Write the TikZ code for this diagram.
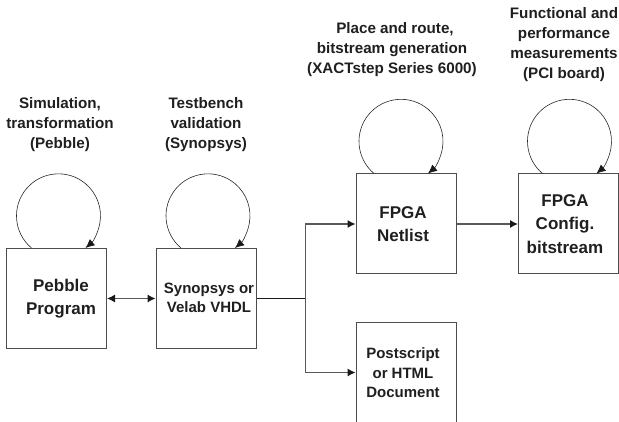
\documentclass[tikz,border=0pt]{standalone}
\usepackage{fontspec}
\setmainfont{Liberation Sans}
\usetikzlibrary{arrows.meta}
\tikzset{
  x=1pt,y=-1pt,
  headtip/.tip={Latex[length=8pt,width=8pt,color=black!90]},
  looptip/.tip={Latex[length=9pt,width=8pt,color=black!90]},
  boxnode/.style={draw=black!70,line width=1pt,minimum width=100pt,minimum height=100pt,inner sep=0pt},
  biglabel/.style={align=center,inner sep=0pt,text=black!88,font=\bfseries\fontsize{17}{23.5}\selectfont},
  midlabel/.style={align=center,inner sep=0pt,text=black!88,font=\bfseries\fontsize{15}{19.5}\selectfont},
  caption/.style={align=center,inner sep=0pt,text=black!88,font=\bfseries\fontsize{15.2}{20}\selectfont},
  link/.style={draw=black!65,line width=1.1pt,-headtip},
  plain/.style={draw=black!90,line width=0.8pt},
  loopline/.style={draw=black!85,line width=0.6pt,-looptip},
}
\begin{document}
\begin{tikzpicture}
\useasboundingbox (0,0) rectangle (619,422);
\node[boxnode] (pebble) at (56.5,298.5) {};
\node[boxnode] (synopsys) at (206,298.5) {};
\node[boxnode] (netlist) at (406,224) {};
\node[boxnode] (bits) at (568.5,224) {};
\node[boxnode] (doc) at (406,373) {};
\node[biglabel] (t1) at (61,298.5) {Pebble\\Program};
\node[midlabel] (t2) at (209,298) {Synopsys or\\Velab VHDL};
\node[biglabel] (t3) at (403,224) {FPGA\\Netlist};
\node[biglabel] (t4) at (565,224) {FPGA\\Config.\\bitstream};
\node[midlabel] (t5) at (403,373) {Postscript\\or HTML\\Document};
\node[caption] (c1) at (60,125) {Simulation,\\transformation\\(Pebble)};
\node[caption] (c2) at (206,125) {Testbench\\validation\\(Synopsys)};
\node[caption] (c3) at (392,50) {\hspace*{6pt}Place and route,\\bitstream generation\hspace*{10pt}\\(XACTstep Series 6000)};
\node[caption] (c4) at (564,45) {Functional and\\performance\\measurements\\(PCI board)};
\coordinate (j) at (305.5,298.5);
\draw[link,headtip-headtip] (pebble.east) -- (synopsys.west);
\draw[plain] (synopsys.east) -- (j);
\draw[link] (j) |- (netlist.west);
\draw[link] (j) |- (doc.west |- 0,372.5);
\draw[link] (netlist.east) -- (bits.west);
\draw[loopline] ([xshift=-25pt]pebble.north) arc[start angle=130,end angle=410,radius=42];
\draw[loopline] ([xshift=-25pt]synopsys.north) arc[start angle=130,end angle=410,radius=42];
\draw[loopline] ([xshift=-32pt]netlist.north) arc[start angle=130,end angle=410,radius=42];
\draw[loopline] ([xshift=-26pt]bits.north) arc[start angle=130,end angle=410,radius=42];
\end{tikzpicture}
\end{document}
